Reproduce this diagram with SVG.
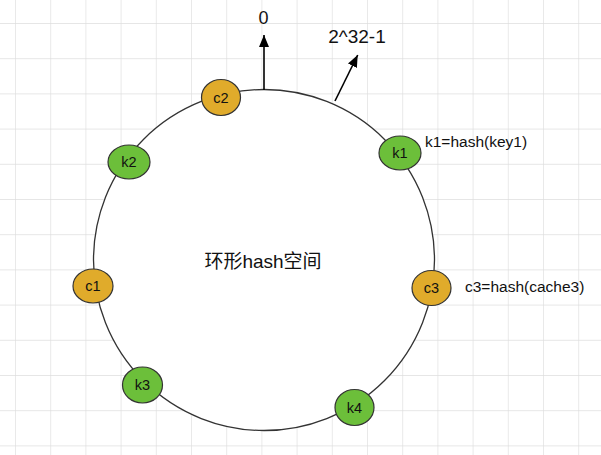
<svg xmlns="http://www.w3.org/2000/svg" width="601" height="455" viewBox="0 0 601 455">
<defs>
<pattern id="grid" patternUnits="userSpaceOnUse" x="15" y="23" width="35.2" height="35.2">
<path d="M0 0H35.2M0 0V35.2" fill="none" stroke="#dedede" stroke-width="1.3"/>
</pattern>
<marker id="arr" markerUnits="userSpaceOnUse" markerWidth="14" markerHeight="12" refX="12" refY="5" orient="auto">
<path d="M0 0L12 5L0 10Z" fill="#000"/>
</marker>
</defs>
<style>
.t{font-family:"Liberation Sans","Noto Sans CJK SC",Arial,sans-serif;fill:#111}
.node text{font-size:14.5px;text-anchor:middle}
.c{fill:#e0ab2b;stroke:#333;stroke-width:1.2}
.k{fill:#6cbf3a;stroke:#333;stroke-width:1.2}
.conn{stroke:#000;stroke-width:1.6;fill:none}
</style>
<rect width="601" height="455" fill="#fff"/>
<rect width="601" height="455" fill="url(#grid)"/>
<g id="ring">
<circle cx="264" cy="260" r="170.5" fill="#fff" stroke="#333" stroke-width="1.3"/>
<text class="t" x="263" y="268" font-size="19" text-anchor="middle">环形hash空间</text>
</g>
<g id="connectors">
<line class="conn" x1="264" y1="90" x2="264" y2="35" marker-end="url(#arr)"/>
<line class="conn" x1="335" y1="101" x2="357.7" y2="55" stroke-width="1.4" marker-end="url(#arr)"/>
</g>
<g id="label-0"><text class="t" x="263.5" y="24" font-size="18" text-anchor="middle">0</text></g>
<g id="label-max"><text class="t" x="357" y="43" font-size="19" text-anchor="middle">2^32-1</text></g>
<g id="c2" class="node"><ellipse class="c" cx="221" cy="97.5" rx="19.5" ry="18"/><text class="t" x="221" y="102.5">c2</text></g>
<g id="k2" class="node"><ellipse class="k" cx="129" cy="162" rx="21" ry="17"/><text class="t" x="129" y="167">k2</text></g>
<g id="k1" class="node"><ellipse class="k" cx="400" cy="153" rx="21" ry="17"/><text class="t" x="400" y="158">k1</text></g>
<g id="c1" class="node"><ellipse class="c" cx="93" cy="286" rx="20" ry="17"/><text class="t" x="93" y="291">c1</text></g>
<g id="c3" class="node"><ellipse class="c" cx="431.5" cy="288" rx="19.5" ry="17.5"/><text class="t" x="431.5" y="293">c3</text></g>
<g id="k3" class="node"><ellipse class="k" cx="142.5" cy="385" rx="20" ry="18"/><text class="t" x="142.5" y="390">k3</text></g>
<g id="k4" class="node"><ellipse class="k" cx="354.5" cy="407.5" rx="19.5" ry="18"/><text class="t" x="354.5" y="412.5">k4</text></g>
<g id="note-k1"><text class="t" x="425" y="147" font-size="15.5">k1=hash(key1)</text></g>
<g id="note-c3"><text class="t" x="465" y="292" font-size="15.5">c3=hash(cache3)</text></g>
</svg>
